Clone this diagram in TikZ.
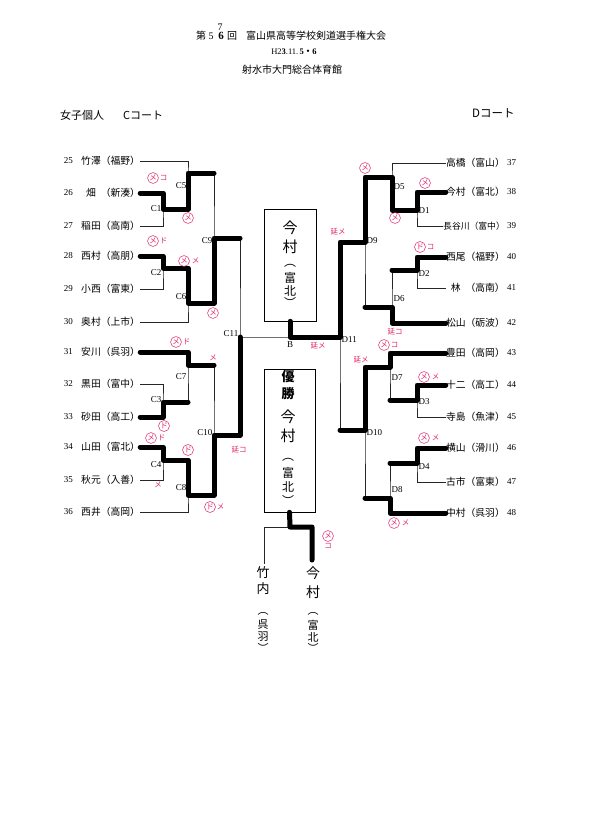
\documentclass[tikz,border=0pt]{standalone}
\usepackage{fontspec}
\setmainfont{Liberation Serif}
\newfontfamily\jp{Noto Sans CJK JP}
\usetikzlibrary{positioning}
\definecolor{pen}{RGB}{226,40,110}

\begin{document}
\begin{tikzpicture}[x=1pt,y=-1pt,
  ln/.style={line width=0.5pt,black!85},
  win/.style={line width=5pt,line cap=round,line join=round},
  nm/.style={font=\jp\fontsize{9.8}{10}\selectfont,inner sep=0pt},
  num/.style={font=\fontsize{9}{10}\selectfont,inner sep=0pt},
  lb/.style={font=\fontsize{9}{10}\selectfont,inner sep=0.5pt},
  hw/.style={font=\jp\fontsize{15}{15}\selectfont,inner sep=0pt},
  hws/.style={font=\jp\fontsize{12}{12}\selectfont,inner sep=0pt},
  aka/.style={text=pen,font=\jp\fontsize{7.5}{8}\selectfont,inner sep=0pt},
  maru/.style={aka,circle,draw=pen,line width=0.5pt,inner sep=0.5pt}]
  \useasboundingbox (0,0) rectangle (596,840);
  \fill[white] (0,0) rectangle (596,840);

  % header
  \node[font=\jp\fontsize{10}{10}\selectfont] (t1) at (201,36) {第};
  \node[font=\fontsize{10}{10}\selectfont] (t2) at (211,36) {5};
  \node[font=\bfseries\fontsize{11}{11}\selectfont] (t3) at (221,36) {6};
  \node[font=\jp\fontsize{10}{10}\selectfont] (t4) at (232,36) {回};
  \node[font=\jp\fontsize{10}{10}\selectfont,anchor=west,inner sep=0pt] (t5) at (246,36) {富山県高等学校剣道選手権大会};
  \node[font=\fontsize{10}{10}\selectfont] (t7) at (220,27) {7};
  \node[font=\fontsize{8.5}{9}\selectfont] (t8) at (294,52) {H2\textbf{3}.11.\,\textbf{5{\jp・}6}};
  \node[font=\jp\fontsize{10}{10}\selectfont] (t9) at (292,70) {射水市大門総合体育館};
  \node[font=\jp\fontsize{11}{11}\selectfont,anchor=west,inner sep=0pt] (hc) at (60,115) {女子個人\hspace{19pt}Cコート};
  \node[font=\jp\fontsize{11.5}{12}\selectfont,anchor=west,inner sep=0pt] (hd) at (472,113) {Dコート};

  % C court entries
  \node[nm,anchor=west] (n25) at (81,161) {竹澤（福野）};
  \node[nm,anchor=west] (n26) at (81,193) {\makebox[2em]{畑}（新湊）};
  \node[nm,anchor=west] (n27) at (81,226) {稲田（高南）};
  \node[nm,anchor=west] (n28) at (81,256) {西村（高朋）};
  \node[nm,anchor=west] (n29) at (81,289) {小西（富東）};
  \node[nm,anchor=west] (n30) at (81,322) {奥村（上市）};
  \node[nm,anchor=west] (n31) at (81,352) {安川（呉羽）};
  \node[nm,anchor=west] (n32) at (81,384) {黒田（富中）};
  \node[nm,anchor=west] (n33) at (81,417) {砂田（高工）};
  \node[nm,anchor=west] (n34) at (81,447) {山田（富北）};
  \node[nm,anchor=west] (n35) at (81,480) {秋元（入善）};
  \node[nm,anchor=west] (n36) at (81,512) {西井（高岡）};
  \node[num,left=8pt of n25] {25};
  \node[num,left=8pt of n26] {26};
  \node[num,left=8pt of n27] {27};
  \node[num,left=8pt of n28] {28};
  \node[num,left=8pt of n29] {29};
  \node[num,left=8pt of n30] {30};
  \node[num,left=8pt of n31] {31};
  \node[num,left=8pt of n32] {32};
  \node[num,left=8pt of n33] {33};
  \node[num,left=8pt of n34] {34};
  \node[num,left=8pt of n35] {35};
  \node[num,left=8pt of n36] {36};

  % D court entries
  \node[nm,anchor=east] (n37) at (505,163) {高橋（富山）};
  \node[nm,anchor=east] (n38) at (505,192) {今村（富北）};
  \node[nm,anchor=east,font=\jp\fontsize{8.8}{9}\selectfont] (n39) at (505,226) {長谷川（富中）};
  \node[nm,anchor=east] (n40) at (505,257) {西尾（福野）};
  \node[nm,anchor=east] (n41) at (505,288) {\makebox[2em]{林}（高南）};
  \node[nm,anchor=east] (n42) at (505,323) {松山（砺波）};
  \node[nm,anchor=east] (n43) at (505,353) {豊田（高岡）};
  \node[nm,anchor=east] (n44) at (505,385) {十二（高工）};
  \node[nm,anchor=east] (n45) at (505,417) {寺島（魚津）};
  \node[nm,anchor=east] (n46) at (505,448) {横山（滑川）};
  \node[nm,anchor=east] (n47) at (505,482) {古市（富東）};
  \node[nm,anchor=east] (n48) at (505,513) {中村（呉羽）};
  \node[num,right=2pt of n37] {37};
  \node[num,right=2pt of n38] {38};
  \node[num,right=2pt of n39] {39};
  \node[num,right=2pt of n40] {40};
  \node[num,right=2pt of n41] {41};
  \node[num,right=2pt of n42] {42};
  \node[num,right=2pt of n43] {43};
  \node[num,right=2pt of n44] {44};
  \node[num,right=2pt of n45] {45};
  \node[num,right=2pt of n46] {46};
  \node[num,right=2pt of n47] {47};
  \node[num,right=2pt of n48] {48};

  % match points
  \coordinate (c1) at (163,209);
  \coordinate (c5) at (188,173);
  \coordinate (c2) at (163,268);
  \coordinate (c6) at (188,303);
  \coordinate (c9) at (214,238);
  \coordinate (c3) at (163,402);
  \coordinate (c7) at (188,365);
  \coordinate (c4) at (163,460);
  \coordinate (c8) at (188,495);
  \coordinate (c10) at (214,435);
  \coordinate (c11) at (240,337);
  \coordinate (b) at (290,337);
  \coordinate (d11) at (340,337);
  \coordinate (d1) at (417,210);
  \coordinate (d5) at (392,177);
  \coordinate (d2) at (417,270);
  \coordinate (d6) at (392,307);
  \coordinate (d9) at (365,242);
  \coordinate (d3) at (417,400);
  \coordinate (d7) at (390,367);
  \coordinate (d4) at (417,463);
  \coordinate (d8) at (390,498);
  \coordinate (d10) at (365,430);

  % bracket
  \draw[ln] (n26.east) -| (c1) |- (n27.east);
  \draw[ln] (n25.east) -| (c5) |- (c1);
  \draw[ln] (c5) -| (c9) |- (c6);
  \draw[ln] (n28.east) -| (c2) |- (n29.east);
  \draw[ln] (c2) -| (c6) |- (n30.east);
  \draw[ln] (c9) -| (c11) |- (c10);
  \draw[ln] (n31.east) -| (c7) |- (c3);
  \draw[ln] (n32.east) -| (c3) |- (n33.east);
  \draw[ln] (c7) -| (c10) |- (c8);
  \draw[ln] (n34.east) -| (c4) |- (n35.east);
  \draw[ln] (c4) -| (c8) |- (n36.east);
  \draw[ln] (c11) -- (b) -- (d11);
  \draw[ln] (n38.west) -| (d1) |- (n39.west);
  \draw[ln] (n37.west) -| (d5) |- (d1);
  \draw[ln] (d5) -| (d9) |- (d6);
  \draw[ln] (n40.west) -| (d2) |- (n41.west);
  \draw[ln] (d2) -| (d6) |- (n42.west);
  \draw[ln] (d9) -| (d11) |- (d10);
  \draw[ln] (n43.west) -| (d7) |- (d3);
  \draw[ln] (n44.west) -| (d3) |- (n45.west);
  \draw[ln] (d7) -| (d10) |- (d8);
  \draw[ln] (n46.west) -| (d4) |- (n47.west);
  \draw[ln] (d4) -| (d8) |- (n48.west);

  \node[lb,anchor=east] (lc1) at (162,209) {C1};
  \node[lb,anchor=east] (lc5) at (187,186) {C5};
  \node[lb,anchor=east] (lc2) at (162,273) {C2};
  \node[lb,anchor=east] (lc6) at (187,297) {C6};
  \node[lb,anchor=east] (lc9) at (213,241) {C9};
  \node[lb,anchor=east] (lc7) at (187,377) {C7};
  \node[lb,anchor=east] (lc3) at (162,400) {C3};
  \node[lb,anchor=east] (lc10) at (213,433) {C10};
  \node[lb,anchor=east] (lc4) at (162,465) {C4};
  \node[lb,anchor=east] (lc8) at (187,488) {C8};
  \node[lb,anchor=east] (lc11) at (239,334) {C11};
  \node[lb] (lb) at (290,345) {B};
  \node[lb,anchor=west] (ld5) at (393,187) {D5};
  \node[lb,anchor=west] (ld1) at (418,211) {D1};
  \node[lb,anchor=west] (ld9) at (366,241) {D9};
  \node[lb,anchor=west] (ld2) at (418,274) {D2};
  \node[lb,anchor=west] (ld6) at (393,299) {D6};
  \node[lb,anchor=west] (ld11) at (341,340) {D11};
  \node[lb,anchor=west] (ld7) at (391,378) {D7};
  \node[lb,anchor=west] (ld3) at (418,402) {D3};
  \node[lb,anchor=west] (ld10) at (366,433) {D10};
  \node[lb,anchor=west] (ld4) at (418,467) {D4};
  \node[lb,anchor=west] (ld8) at (391,490) {D8};

  % boxes
  \node[draw,line width=0.6pt,minimum width=52pt,minimum height=112pt,inner sep=0pt] (bx) at (290,265) {};
  \node[hw] (k1) at (290,228) {今};
  \node[hw] (k2) at (290,247) {村};
  \node[hws] (k3) at (290,266) {︵};
  \node[hws] (k4) at (290,278) {富};
  \node[hws] (k5) at (290,291) {北};
  \node[hws] (k6) at (290,302) {︶};
  \node[draw,line width=0.6pt,minimum width=51pt,minimum height=143pt,inner sep=0pt] (yu) at (289.5,440.5) {};
  \node[hw,font=\jp\bfseries\fontsize{13}{13}\selectfont] (y1) at (288,377) {優};
  \node[hw,font=\jp\bfseries\fontsize{13}{13}\selectfont] (y2) at (288,394) {勝};
  \node[hw] (y3) at (288,417) {今};
  \node[hw] (y4) at (288,436) {村};
  \node[hws] (y5) at (288,460) {︵};
  \node[hws] (y6) at (288,473) {富};
  \node[hws] (y7) at (288,487) {北};
  \node[hws] (y8) at (288,500) {︶};

  % final
  \coordinate (f) at (290,527);
  \coordinate (fl) at (264,527);
  \coordinate (fr) at (312,527);
  \coordinate (fle) at (264,564);
  \coordinate (fre) at (312,560);
  \draw[ln] (f) -- (fl) -- (fle);
  \node[hws,font=\jp\fontsize{13}{13}\selectfont] (p1) at (263,573) {竹};
  \node[hws,font=\jp\fontsize{13}{13}\selectfont] (p2) at (263,589) {内};
  \node[hws,font=\jp\fontsize{11}{11}\selectfont] (p3) at (263,614) {︵};
  \node[hws,font=\jp\fontsize{11}{11}\selectfont] (p4) at (263,625) {呉};
  \node[hws,font=\jp\fontsize{11}{11}\selectfont] (p5) at (263,637) {羽};
  \node[hws,font=\jp\fontsize{11}{11}\selectfont] (p6) at (263,648) {︶};
  \node[hws,font=\jp\fontsize{14}{14}\selectfont] (q1) at (313,573) {今};
  \node[hws,font=\jp\fontsize{14}{14}\selectfont] (q2) at (313,592) {村};
  \node[hws,font=\jp\fontsize{11}{11}\selectfont] (q3) at (313,614) {︵};
  \node[hws,font=\jp\fontsize{11}{11}\selectfont] (q4) at (313,625) {富};
  \node[hws,font=\jp\fontsize{11}{11}\selectfont] (q5) at (313,637) {北};
  \node[hws,font=\jp\fontsize{11}{11}\selectfont] (q6) at (313,648) {︶};

  % winners
  \draw[win] (n26.east) -| (c1) -| (c5) -- (c9 |- c5);
  \draw[win] (n28.east) -| (c2) -| (c6) -| (c9) -- (c11 |- c9);
  \draw[win] (n31.east) -| (c7) -- (c10 |- c7);
  \draw[win] (n33.east) -| (c3) -- (c7 |- c3);
  \draw[win] (n34.east) -| (c4) -| (c8) -| (c10) -| (c11);
  \draw[win] (n38.west) -| (d1) -| (d5) -| (d9) -| (d11) -- (b) -- (bx.south);
  \draw[win] (n40.west) -| (d2) -- (d6 |- d2);
  \draw[win] (n42.west) -| (d6) -- (d9 |- d6);
  \draw[win] (n43.west) -| (d7) -| (d10) -- (d11 |- d10);
  \draw[win] (n44.west) -| (d3) -- (d7 |- d3);
  \draw[win] (n46.west) -| (d4) -- (d8 |- d4);
  \draw[win] (n48.west) -| (d8) -- (d10 |- d8);
  \draw[win] (yu.south) -- (f) -- (fr) -- (fre);

  % red marks
  \node[maru] (r1) at (153,178) {メ};
  \node[aka,right=1pt of r1] (r1b) {コ};
  \node[maru] (r2) at (188,218) {メ};
  \node[maru] (r3) at (153,241) {メ};
  \node[aka,right=1pt of r3] (r3b) {ド};
  \node[maru] (r4) at (184,261) {メ};
  \node[aka,right=2pt of r4] (r4b) {メ};
  \node[maru] (r5) at (213,313) {メ};
  \node[maru] (r6) at (176,342) {メ};
  \node[aka,right=1pt of r6] (r6b) {ド};
  \node[aka] (r7) at (213,358) {メ};
  \node[maru] (r8) at (164,426) {ド};
  \node[maru] (r9) at (151,438) {メ};
  \node[aka,right=1pt of r9] (r9b) {ド};
  \node[aka] (r10) at (158,485) {メ};
  \node[maru] (r11) at (188,450) {ド};
  \node[aka] (r12) at (239,450) {延コ};
  \node[maru] (r13) at (210,507) {ド};
  \node[aka,right=1pt of r13] (r13b) {メ};
  \node[aka] (r14) at (338,232) {延メ};
  \node[aka] (r15) at (318,346) {延メ};
  \node[maru] (r16) at (328,536) {メ};
  \node[aka,below=1pt of r16] (r16b) {コ};
  \node[maru] (r17) at (365,168) {メ};
  \node[maru] (r18) at (425,183) {メ};
  \node[maru] (r19) at (395,218) {メ};
  \node[maru] (r20) at (420,247) {ド};
  \node[aka,right=1pt of r20] (r20b) {コ};
  \node[aka] (r21) at (395,332) {延コ};
  \node[maru] (r22) at (384,345) {メ};
  \node[aka,right=1pt of r22] (r22b) {コ};
  \node[aka] (r23) at (361,360) {延メ};
  \node[maru] (r24) at (424,377) {メ};
  \node[aka,right=2pt of r24] (r24b) {メ};
  \node[maru] (r25) at (424,438) {メ};
  \node[aka,right=2pt of r25] (r25b) {メ};
  \node[maru] (r26) at (394,523) {メ};
  \node[aka,right=2pt of r26] (r26b) {メ};
\end{tikzpicture}
\end{document}
